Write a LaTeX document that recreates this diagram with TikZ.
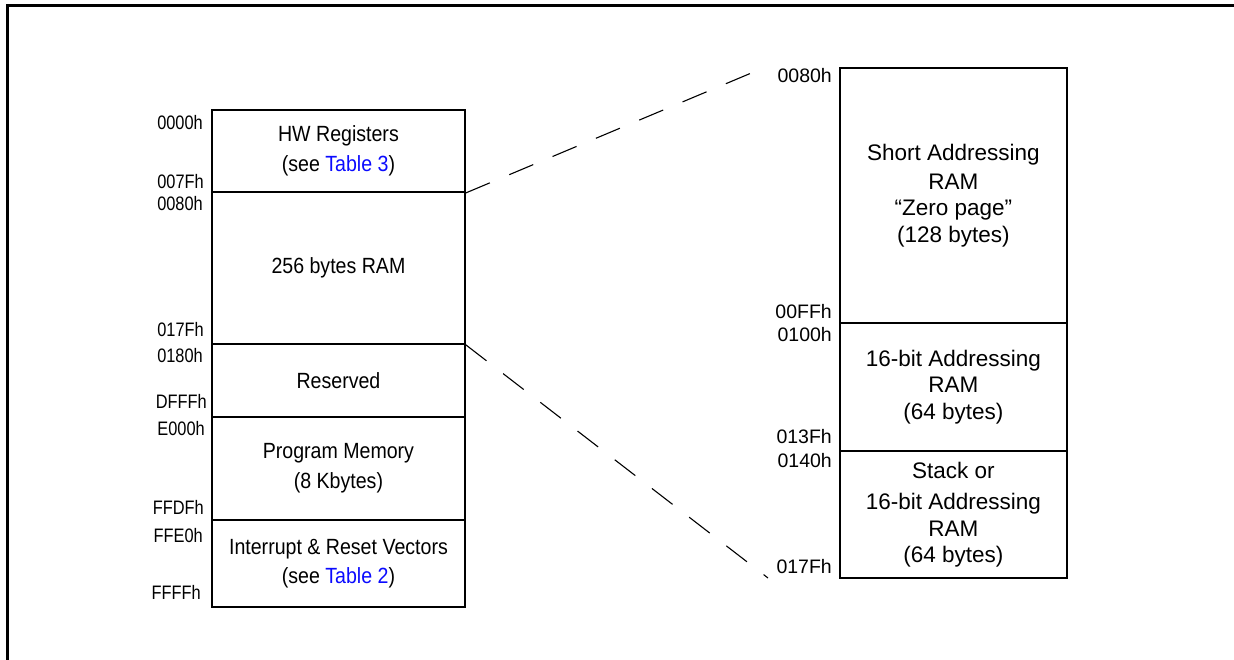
\documentclass[tikz,border=0pt]{standalone}
\usepackage{fontspec}
\setmainfont{Liberation Sans}
\newfontfamily\lboxfont[FakeStretch=0.89]{Liberation Sans}
\newfontfamily\laddrfont[FakeStretch=0.84]{Liberation Sans}
\definecolor{linkblue}{RGB}{10,10,255}
\begin{document}
\begin{tikzpicture}[x=1pt,y=-1pt,
  membox/.style={draw, line width=1.9pt, inner sep=0pt, anchor=north west, align=center},
  lfont/.style={font=\lboxfont\fontsize{22}{29.5}\selectfont},
  rfont/.style={font=\fontsize{22.5}{26.5}\selectfont},
  laddr/.style={inner sep=0pt, anchor=east, font=\laddrfont\fontsize{19.5}{21}\selectfont},
  raddr/.style={inner sep=0pt, anchor=east, font=\fontsize{19.5}{21}\selectfont},
  zoomline/.style={line width=1.1pt, dash pattern=on 26pt off 21pt}]
\useasboundingbox (0,0) rectangle (1234,659);
% outer frame (cut off)
\draw[line width=3pt] (7,700) -- (7,5) -- (1240,5);
% left memory map
\node[membox, lfont, minimum width=253, minimum height=82] (hw) at (211,109) {HW Registers\\(see \textcolor{linkblue}{Table 3})};
\node[membox, lfont, minimum width=253, minimum height=152] (ram) at (211,191) {256 bytes RAM};
\node[membox, lfont, minimum width=253, minimum height=73] (res) at (211,343) {Reserved};
\node[membox, lfont, minimum width=253, minimum height=103] (prog) at (211,416) {Program Memory\\(8 Kbytes)};
\node[membox, lfont, minimum width=253, minimum height=87] (vec) at (211,519) {Interrupt \& Reset Vectors\\(see \textcolor{linkblue}{Table 2})};
% left addresses
\node[laddr] (a0000) at (203,123) {0000h};
\node[laddr] (a007F) at (204,182) {007Fh};
\node[laddr] (a0080) at (203,204) {0080h};
\node[laddr] (a017F) at (204,330) {017Fh};
\node[laddr] (a0180) at (203,356) {0180h};
\node[laddr] (aDFFF) at (207,401) {DFFFh};
\node[laddr] (aE000) at (205,429) {E000h};
\node[laddr] (aFFDF) at (204,507) {FFDFh};
\node[laddr] (aFFE0) at (203,536) {FFE0h};
\node[laddr] (aFFFF) at (201,592) {FFFFh};
% right memory map
\node[membox, rfont, minimum width=227, minimum height=255] (zp) at (839,67) {Short Addressing\\[2.5pt]RAM\\``Zero page''\\(128 bytes)};
\node[membox, rfont, minimum width=227, minimum height=128] (b16) at (839,322) {16-bit Addressing\\RAM\\(64 bytes)};
\node[membox, rfont, minimum width=227, minimum height=127] (stk) at (839,450) {Stack or\\[5pt]16-bit Addressing\\RAM\\(64 bytes)};
% right addresses
\node[raddr] (r0080) at (832,76) {0080h};
\node[raddr] (r00FF) at (832,312) {00FFh};
\node[raddr] (r0100) at (832,335) {0100h};
\node[raddr] (r013F) at (832,437) {013Fh};
\node[raddr] (r0140) at (832,461) {0140h};
\node[raddr] (r017F) at (832,567) {017Fh};
% zoom lines
\coordinate (ztop) at (768,66);
\coordinate (zbot) at (768,578);
\draw[zoomline] (hw.south east) -- (ztop);
\draw[zoomline] (ram.south east) -- (zbot);
\end{tikzpicture}
\end{document}
